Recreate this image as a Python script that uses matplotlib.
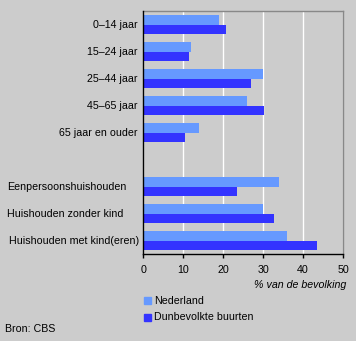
import matplotlib
matplotlib.use("Agg")
import matplotlib.pyplot as plt
import matplotlib.transforms as mtransforms
import numpy as np

# Categories (age groups, then household types; a blank row separates them)
age_groups = ["0\u201314 jaar", "15\u201324 jaar", "25\u201344 jaar", "45\u201365 jaar", "65 jaar en ouder"]
households = ["Eenpersoonshuishouden", "Huishouden zonder kind", "Huishouden met kind(eren)"]

# Share of population (%)
nederland_age = [19, 12, 30, 26, 14]
dunbevolkt_age = [20.7, 11.4, 27, 30.2, 10.4]
nederland_hh = [34, 30, 36]
dunbevolkt_hh = [23.4, 32.6, 43.6]

series_names = ["Nederland", "Dunbevolkte buurten"]
x_ticks = [0, 10, 20, 30, 40, 50]

BG = "#cccccc"
C_NL = "#6699ff"
C_DB = "#3333ff"
FONT = "Liberation Sans"
FS = 7.65

plt.rcParams["font.family"] = [FONT, "DejaVu Sans"]

fig = plt.figure(figsize=(3.56, 3.41), dpi=100, facecolor=BG)
W, H = 356, 341
ax = fig.add_axes([143.3 / W, (H - 254.3) / H, 199.7 / W, 243.3 / H], facecolor=BG)

pos_age = np.arange(len(age_groups))
pos_hh = np.arange(len(households)) + len(age_groups) + 1
pos = np.concatenate([pos_age, pos_hh])
nl = nederland_age + nederland_hh
db = dunbevolkt_age + dunbevolkt_hh

h = 0.35
ax.barh(pos - h / 2, nl, height=h, color=C_NL, label=series_names[0], zorder=3)
ax.barh(pos + h / 2, db, height=h, color=C_DB, label=series_names[1], zorder=3)

ax.set_xlim(0, 50)
ax.set_ylim(len(pos) + 0.5, -0.5)
ax.set_xticks(x_ticks)
ax.set_xticklabels([str(t) for t in x_ticks], fontsize=FS)
ax.grid(axis="x", color="white", linewidth=1, zorder=1)
ax.set_yticks([])
ax.tick_params(axis="x", direction="out", length=3, width=1, color="black", pad=5)

for side in ["left", "bottom"]:
    ax.spines[side].set_color("black")
    ax.spines[side].set_linewidth(1)
    ax.spines[side].set_zorder(5)
for side in ["top", "right"]:
    ax.spines[side].set_color("#888888")
    ax.spines[side].set_linewidth(1)

# Category labels: age groups right-aligned next to the axis, households left-aligned
tr_right = mtransforms.blended_transform_factory(
    ax.transAxes, ax.transData) + mtransforms.ScaledTranslation(-6 / 100, 0, fig.dpi_scale_trans)
for p, lab in zip(pos_age, age_groups):
    ax.text(0, p, lab, transform=tr_right, ha="right", va="center", fontsize=FS)
tr_left = mtransforms.blended_transform_factory(fig.transFigure, ax.transData)
for p, lab in zip(pos_hh, households):
    x0 = 7 / W if lab != households[-1] else 9 / W
    ax.text(x0, p, lab, transform=tr_left, ha="left", va="center", fontsize=FS)

fig.text(346 / W, 1 - 285 / H, "% van de bevolking", ha="right", va="center",
         fontsize=FS, style="italic")

# Legend
leg_y = [1 - 300.5 / H, 1 - 317.5 / H]
for (yy, name, col) in zip(leg_y, series_names, [C_NL, C_DB]):
    fig.patches.append(plt.Rectangle((144 / W, yy - 3.5 / H), 7 / W, 7 / H,
                                     transform=fig.transFigure, color=col))
    fig.text(154 / W, yy, name, ha="left", va="center", fontsize=FS)

fig.text(5 / W, 1 - 328.5 / H, "Bron: CBS", ha="left", va="center", fontsize=FS)

fig.savefig("out.png", dpi=100, facecolor=BG)
